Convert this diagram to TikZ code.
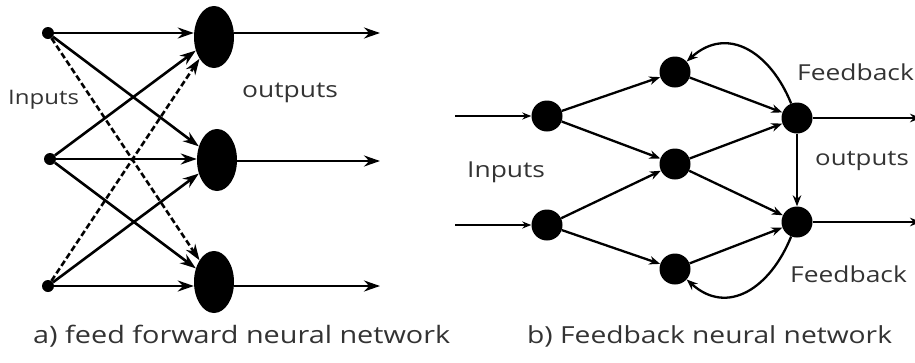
\documentclass[tikz,border=0pt]{standalone}
\usepackage{fontspec}
\setmainfont{Open Sans}[FakeStretch=1.2]
\usetikzlibrary{arrows.meta,shapes.geometric}

\begin{document}
\begin{tikzpicture}[x=1pt,y=-1pt,
  dot/.style={circle,fill=black,inner sep=0pt,minimum size=12pt},
  cell/.style={ellipse,fill=black,inner sep=0pt,minimum width=40pt,minimum height=62pt},
  unit/.style={circle,fill=black,inner sep=0pt,minimum size=31pt},
  wire/.style={line width=2.6pt,-{Stealth[length=16pt,width=11pt]}},
  dwire/.style={wire,dash pattern=on 6pt off 3pt},
  link/.style={line width=2.3pt,-{Stealth[length=11pt,width=8.5pt]}},
  thin link/.style={line width=1.7pt,-{Stealth[length=9pt,width=7pt]}},
  lbl/.style={inner sep=0pt,anchor=base west,text=black!80},
]
\useasboundingbox (0,0) rectangle (915,362);

% ---------- a) feed forward network ----------
\node[dot]  (in1)  at (48,33)  {};
\node[dot]  (in2)  at (50,159) {};
\node[dot]  (in3)  at (48,286) {};
\node[cell] (out1) at (214,37) {};
\node[cell] (out2) at (217,160) {};
\node[cell] (out3) at (214,282) {};
\coordinate (e1) at (380,33);
\coordinate (e2) at (380,161);
\coordinate (e3) at (380,286);

\draw[wire]  (in1) -- (in1 -| out1.west);
\draw[wire]  (in2) -- (in2 -| out2.west);
\draw[wire]  (in3) -- (in3 -| out3.west);
\draw[wire]  (in1) -- (out2);
\draw[dwire] (in1) -- (out3);
\draw[wire]  (in2) -- (out1);
\draw[wire]  (in2) -- (out3);
\draw[dwire] (in3) -- (out1);
\draw[wire]  (in3) -- (out2);

\draw[wire] (out1.east |- e1) -- (e1);
\draw[wire] (out2.east |- e2) -- (e2);
\draw[wire] (out3.east |- e3) -- (e3);

\node[lbl,font=\fontsize{20}{24}\selectfont] (ainputs)  at (8,104)  {Inputs};
\node[lbl,font=\fontsize{22}{26}\selectfont] (aoutputs) at (242,97) {outputs};

% ---------- b) feedback network ----------
\node[unit] (h1) at (547,116) {};
\node[unit] (h2) at (547,225) {};
\node[unit] (m1) at (675,72)  {};
\node[unit] (m2) at (675,164) {};
\node[unit] (m3) at (675,269) {};
\node[unit] (y1) at (797,118) {};
\node[unit] (y2) at (797,222) {};
\coordinate (s1) at (455,116);
\coordinate (s2) at (455,225);
\coordinate (t1) at (921,118);
\coordinate (t2) at (921,222);

\draw[thin link] (s1) -- (h1);
\draw[thin link] (s2) -- (h2);
\draw[link] (h1) -- (m1);
\draw[link] (h1) -- (m2);
\draw[link] (h2) -- (m2);
\draw[link] (h2) -- (m3);
\draw[link] (m1) -- (y1);
\draw[link] (m2) -- (y1);
\draw[link] (m2) -- (y2);
\draw[link] (m3) -- (y2);
\draw[link] (y1) -- (y2);
\draw[link] (y1) to[out=112,in=42,looseness=1.25] (m1);
\draw[link] (y2) to[out=-112,in=-42,looseness=1.25] (m3);
\draw[link] (y1) -- (t1);
\draw[link] (y2) -- (t2);

\node[lbl,font=\fontsize{22}{26}\selectfont] (binputs)  at (467,177) {Inputs};
\node[lbl,font=\fontsize{22}{26}\selectfont] (fbtop)    at (797,80)  {Feedback};
\node[lbl,font=\fontsize{21.5}{26}\selectfont] (boutputs) at (815,165) {outputs};
\node[lbl,font=\fontsize{22}{26}\selectfont] (fbbot)    at (790,282) {Feedback};

% ---------- captions ----------
\node[lbl,font=\fontsize{24}{28}\selectfont] (capa) at (33,343)  {a) feed forward neural network};
\node[lbl,font=\fontsize{23.5}{28}\selectfont] (capb) at (527,343) {b) Feedback neural network};
\end{tikzpicture}
\end{document}
